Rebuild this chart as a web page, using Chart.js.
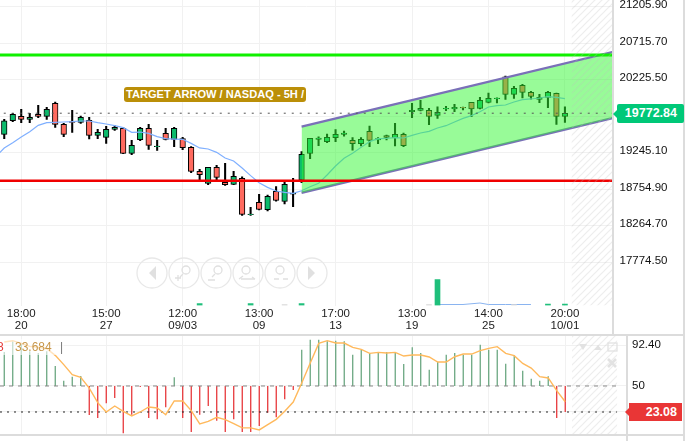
<!DOCTYPE html>
<html>
<head>
<meta charset="utf-8">
<script src="https://cdn.jsdelivr.net/npm/chart.js@4"></script>
<style>
  html, body { margin: 0; padding: 0; background: #fff; }
  #wrap { position: relative; width: 693px; height: 441px; overflow: hidden; font-family: "Liberation Sans", sans-serif; }
  canvas { position: absolute; left: 0; }
  .line { position: absolute; background: #dcdcdc; }
  .tag { position: absolute; color: #fff; font-weight: bold; text-align: right; border-radius: 2px; font-size: 12.5px; }
  .tag:before { content: ""; position: absolute; left: -4px; top: 50%; margin-top: -4px;
    border-top: 4px solid transparent; border-bottom: 4px solid transparent; border-right: 4px solid; border-right-color: inherit; }
  #badge { position: absolute; left: 124px; top: 87px; width: 182px; height: 15px; line-height: 15px; background: #bb8f08;
    color: #fff; font: bold 11.1px/15px "Liberation Sans", sans-serif; text-align: center; border-radius: 3px; white-space: nowrap; }
  #legend { position: absolute; left: 0; top: 339px; height: 16px; width: 64px; font-size: 12px; line-height: 16px;
    background: rgba(255,255,255,.6); white-space: nowrap; }
  #legend span { position: absolute; top: 0; }
  svg { position: absolute; left: 0; top: 0; }
</style>
</head>
<body>
<div id="wrap">
  <canvas id="main" width="693" height="335" style="top:0;width:693px;height:335px"></canvas>
  <canvas id="rsi" width="693" height="99" style="top:335px;width:693px;height:99px"></canvas>

  <svg width="693" height="441" fill="none" stroke="#e8e8e8" stroke-width="1.3">
    <g><circle cx="152" cy="273" r="15"/><circle cx="184" cy="273" r="15"/><circle cx="216" cy="273" r="15"/>
       <circle cx="248" cy="273" r="15"/><circle cx="280" cy="273" r="15"/><circle cx="312" cy="273" r="15"/></g>
    <path d="M156 266v14l-7-7zM308 266v14l7-7z" fill="#e0e0e0" stroke="none"/>
    <g stroke="#e0e0e0">
      <circle cx="186" cy="270" r="4"/><path d="M183 274l-3 3M175 278h6M178 275v6"/>
      <circle cx="218" cy="270" r="4"/><path d="M215 274l-3 3M208 280h7"/>
      <circle cx="246" cy="270" r="4"/><path d="M243 276l-4 3M241 279h14M252 277l3 2"/>
      <circle cx="280" cy="270" r="4"/><path d="M274 279h5M283 279h5"/>
    </g>
    <path d="M579 335h8l-4 6zM594 341l4-5 4 5z" transform="translate(0 9)" fill="#e2e2e2" stroke="none"/>
    <rect x="608" y="343" width="9" height="8" stroke="#e2e2e2"/>
    <path d="M608 359l8 8M616 359l-8 8" stroke="#e2e2e2" stroke-width="2.6"/>
  </svg>

  <div class="line" style="left:612px;top:0;width:2px;height:335px"></div>
  <div class="line" style="left:683px;top:0;width:2px;height:441px"></div>
  <div class="line" style="left:0;top:334px;width:685px;height:2px"></div>
  <div class="line" style="left:626px;top:335px;width:2px;height:106px"></div>
  <div class="line" style="left:0;top:434px;width:685px;height:2px"></div>

  <div id="badge">TARGET ARROW / NASDAQ - 5H /</div>
  <div id="legend"><span style="left:-3px;color:#e53935">8</span><span style="left:15px;color:#c8974a">33.684</span><span style="left:60px;color:#777">|</span></div>
  <div class="tag" id="lastTag" style="left:617px;top:104px;width:60px;height:19px;line-height:18px;padding-right:7px;background:#00c878;border-color:#00c878"></div>
  <div class="tag" id="rsiTag" style="left:629px;top:403px;width:48px;height:18px;line-height:18px;padding-right:5px;background:#e93636;border-color:#e93636;border-radius:0"></div>
</div>

<script>
const opens = [19489,19672,19731,19690,19757,19731,19905,19623,19659,19650,19677,19475,19449,19556,19570,19234,19417,19570,19323,19502,19422,19431,19314,18992,18831,19046,18844,18817,18898,18410,18576,18477,18723,18589,18687,18875,19234,19422,19390,19444,19489,19408,19364,19529,19413,19471,19444,19489,19793,19811,19811,19744,19829,19829,19851,19919,19838,19919,19968,20263,20026,20147,20053,19959,19986,20040,19731];
const closes = [19672,19757,19690,19717,19731,19825,19623,19489,19650,19717,19475,19516,19556,19583,19234,19341,19570,19341,19332,19422,19570,19310,18992,18947,19046,18911,18813,18925,18414,18419,18482,18656,18602,18817,18696,19220,19435,19440,19449,19489,19507,19364,19422,19408,19431,19449,19489,19337,19811,19838,19731,19784,19838,19851,19843,19829,19946,19972,19977,20026,20107,20053,19999,19986,20053,19731,19771];
const highs = [19690,19771,19825,19771,19878,19852,19923,19637,19811,19735,19717,19556,19596,19605,19583,19408,19583,19623,19408,19570,19583,19449,19323,19019,19046,19072,19099,18992,18920,18508,18683,18674,18786,18849,18898,19256,19435,19457,19493,19552,19534,19444,19444,19601,19444,19480,19637,19507,19905,19946,19838,19860,19865,19892,19856,19919,19986,20044,19981,20272,20134,20160,20066,20026,20066,20044,19860];
const lows = [19431,19659,19646,19646,19713,19690,19583,19458,19516,19637,19426,19431,19368,19543,19229,19216,19404,19287,19274,19413,19323,19283,18974,18871,18813,18876,18804,18813,18401,18401,18473,18459,18593,18553,18517,18840,19162,19337,19377,19390,19466,19278,19332,19323,19364,19413,19332,19323,19713,19802,19619,19704,19807,19793,19816,19726,19829,19910,19910,19959,19972,19977,19963,19914,19847,19623,19650];
const maBefore = 19189;
const maValues = [19306,19377,19453,19525,19610,19646,19650,19655,19659,19668,19668,19646,19628,19605,19579,19516,19520,19502,19458,19431,19426,19422,19368,19306,19292,19247,19171,19131,19037,18934,18840,18777,18728,18710,18697,18732,18786,18831,18943,19064,19167,19234,19314,19391,19431,19435,19444,19440,19476,19507,19529,19574,19605,19655,19704,19740,19793,19856,19874,19883,19923,19955,19964,19977,19995,19986,19968];

const priceTicks = [21205.9,20715.7,20225.5,19735.3,19245.1,18754.9,18264.7,17774.5];
const timeIndex = [2,12,21,30,39,48,57,66];
const timeLabels = [['18:00','20'],['15:00','27'],['12:00','09/03'],['13:00','09'],['17:00','13'],['13:00','19'],['14:00','25'],['20:00','10/01']];

const lastPrice = 19772.84;
const greenLevel = 20555;
const redLevel = 18866;
const channelX = [35,72];
const channelTop = [19592,20606];
const channelBottom = [18705,19719];

const volumeIndex = [23,29,35,51,64,66];
const volumeValues = [2,2,2,26,1.5,1.5];
const volumeGreyIndex = [33,50,60];
const volumeGreyValues = [1,1,1];
const volumeMaIndex = [51,54,56,57,59,62];
const volumeMaValues = [1,1,2.5,1,1,1];

const oscHist = [85.2,96.2,94.5,85.9,84.1,85.9,70.7,55.5,59.7,60.3,20,16.9,32.1,37.6,1,20.3,49,16.9,15.5,27.9,59,16.9,2.4,20.3,29.3,14.1,2.4,15.5,2.4,2.4,8.6,22.4,17.6,36.2,45.9,87.6,97.9,97.9,96.2,96.9,96.2,82.4,87.6,84.1,85.2,85.2,85.2,72.8,90,84.1,66.9,74.8,82.4,84.1,82.4,82.4,92.8,87.6,87.6,73.1,81.7,65.9,57.6,55.5,60,16.9,23.1];
const oscLine = [95.5,96.9,94.1,91,90,88.6,81.7,72.1,61.7,59,47.9,32.8,23.1,29.3,23.8,19,23.1,28.3,27.2,20.3,34.5,34.5,24.5,10.7,13.4,17.6,15.2,11,6.6,6.6,4.5,10,15.5,23.8,33.4,53.1,73.8,94.1,96.9,94.5,94.5,90,87.9,83.8,84.8,84.1,84.8,81,82.1,82.1,80,74.8,74.8,80.3,83.1,83.1,86.6,89,90.7,83.8,81.4,73.4,68.6,59.7,58.3,45.2,33.684];
const oscTicks = [92.4,50,23.08];
const oscLast = 23.08;

document.getElementById('lastTag').textContent = lastPrice.toFixed(2);
document.getElementById('rsiTag').textContent = oscLast.toFixed(2);

const hatchStart = 66.8;

// diagonal stripes over the empty right end of each panel
function hatchPlugin(endIdx) {
  return {
    id: 'hatch',
    afterDatasetsDraw(chart) {
      const { ctx, scales: { x }, chartArea } = chart;
      const p = document.createElement('canvas');
      p.width = 7; p.height = 7;
      const c = p.getContext('2d');
      c.strokeStyle = 'rgba(190,190,190,.28)';
      c.lineWidth = 1.2;
      c.beginPath();
      c.moveTo(-1, 8); c.lineTo(8, -1);
      c.moveTo(-4, 4); c.lineTo(4, -4);
      c.moveTo(3, 11); c.lineTo(11, 3);
      c.stroke();
      const left = x.getPixelForValue(hatchStart);
      const right = x.getPixelForValue(endIdx);
      ctx.save();
      ctx.beginPath();
      ctx.rect(chartArea.left, chartArea.top, chartArea.right - chartArea.left, chartArea.bottom - chartArea.top);
      ctx.clip();
      ctx.fillStyle = ctx.createPattern(p, 'repeat');
      ctx.fillRect(left, chartArea.top, right - left, chartArea.bottom - chartArea.top);
      ctx.restore();
    }
  };
}

const gridColor = '#f1f1f1';
const tickFont = { family: '"Liberation Sans", sans-serif', size: 11.5, lineHeight: 1 };
const pts = (xs, ys) => xs.map((x, i) => ({ x, y: ys[i] }));
const seq = arr => arr.map((y, i) => ({ x: i, y }));

// the labels sit right at the plot edge, no room wanted for them
function noEdgePadding(s) {
  s.paddingTop = 0; s.paddingBottom = 0; s.paddingLeft = 0; s.paddingRight = 0;
}

new Chart(document.getElementById('main'), {
  data: {
    datasets: [
      { type: 'bar', order: 7, data: highs.map((h, i) => ({ x: i, y: [lows[i], h] })), backgroundColor: '#000', barThickness: 1.4, grouped: false, yAxisID: 'y' },
      { type: 'bar', order: 6, data: opens.map((o, i) => ({ x: i, y: [o, closes[i]] })),
        backgroundColor: opens.map((o, i) => closes[i] >= o ? '#0cbb6c' : '#ff6a5f'),
        borderColor: '#000', borderWidth: 1, borderSkipped: false, barThickness: 5.6, grouped: false, yAxisID: 'y' },
      { type: 'bar', order: 8, data: pts(volumeIndex, volumeValues), backgroundColor: '#1fbf7b', barThickness: 5, grouped: false, yAxisID: 'vol' },
      { type: 'bar', order: 8, data: pts(volumeGreyIndex, volumeGreyValues), backgroundColor: '#d8d8d8', barThickness: 5, grouped: false, yAxisID: 'vol' },
      { type: 'line', order: 8, data: pts(volumeMaIndex, volumeMaValues), borderColor: '#8ab4f0', borderWidth: 1, pointRadius: 0, yAxisID: 'vol' },
      { type: 'line', order: 5, data: [{ x: -1, y: maBefore }, ...seq(maValues)], borderColor: '#80b0ff', borderWidth: 1.2, pointRadius: 0, tension: 0, yAxisID: 'y' },
      { type: 'line', order: 3, data: pts(channelX, channelTop), borderColor: '#7a70b8', borderWidth: 2.4, pointRadius: 0,
        backgroundColor: 'rgba(50,247,50,.5)', fill: '+1', yAxisID: 'y' },
      { type: 'line', order: 3, data: pts(channelX, channelBottom), borderColor: '#7a70b8', borderWidth: 2.4, pointRadius: 0, yAxisID: 'y' },
      { type: 'line', order: 2, data: pts([-1, 72], [lastPrice, lastPrice]), borderColor: '#555', borderWidth: 1, borderDash: [2, 6], pointRadius: 0, yAxisID: 'y' },
      { type: 'line', order: 1, data: pts([-1, 72], [greenLevel, greenLevel]), borderColor: '#10f000', borderWidth: 3, pointRadius: 0, yAxisID: 'y' },
      { type: 'line', order: 1, data: pts([-1, 72], [redLevel, redLevel]), borderColor: '#f00000', borderWidth: 2.4, pointRadius: 0, yAxisID: 'y' }
    ]
  },
  plugins: [hatchPlugin(72)],
  options: {
    responsive: false,
    animation: false,
    layout: { padding: 0, autoPadding: false },
    plugins: { legend: { display: false }, tooltip: { enabled: false } },
    scales: {
      x: {
        type: 'linear', min: -0.5, max: 71.6, offset: false,
        afterBuildTicks: s => { s.ticks = timeIndex.map(v => ({ value: v })); },
        afterFit: s => { s.height = 29.5; noEdgePadding(s); },
        grid: { color: gridColor, drawTicks: false, offset: false },
        border: { display: false },
        ticks: { autoSkip: false, maxRotation: 0, padding: 3, color: '#222', font: tickFont,
          callback: (v, i) => timeLabels[i] }
      },
      y: {
        position: 'right', min: 17190.3, max: 21293.2,
        afterBuildTicks: s => { s.ticks = priceTicks.map(v => ({ value: v })); },
        afterFit: s => { s.width = 693 - 612.5; noEdgePadding(s); },
        grid: { color: gridColor, drawTicks: false },
        border: { display: false },
        ticks: { autoSkip: false, padding: 7, labelOffset: -1.5, color: '#111', font: tickFont, callback: v => v.toFixed(2) }
      },
      vol: { display: false, position: 'right', min: 0, max: 305.5 }
    }
  }
});

new Chart(document.getElementById('rsi'), {
  data: {
    datasets: [
      { type: 'bar', order: 4, data: oscHist.map((v, i) => ({ x: i, y: [50, v] })),
        backgroundColor: oscHist.map(v => v >= 50 ? '#5fa077' : '#e5282c'), barThickness: 1.2, inflateAmount: 0, grouped: false },
      { type: 'line', order: 3, data: pts([-0.5, 72.1], [50, 50]), borderColor: '#888', borderWidth: 1, borderDash: [4, 5], pointRadius: 0 },
      { type: 'line', order: 3, data: pts([-0.5, 72.1], [oscLast, oscLast]), borderColor: '#222', borderWidth: 1, borderDash: [2, 5], pointRadius: 0 },
      { type: 'line', order: 2, data: seq(oscLine), borderColor: '#ffb95c', borderWidth: 1.4, pointRadius: 0, tension: 0 }
    ]
  },
  plugins: [hatchPlugin(72.1)],
  options: {
    responsive: false,
    animation: false,
    layout: { padding: 0, autoPadding: false },
    plugins: { legend: { display: false }, tooltip: { enabled: false } },
    scales: {
      x: {
        type: 'linear', min: -0.5, max: 73.15, offset: false,
        display: true,
        afterBuildTicks: s => { s.ticks = timeIndex.map(v => ({ value: v })); },
        afterFit: s => { s.height = 0; noEdgePadding(s); },
        grid: { color: gridColor, drawTicks: false, offset: false },
        border: { display: false },
        ticks: { display: false }
      },
      y: {
        position: 'right', min: 0.3, max: 102.8,
        afterBuildTicks: s => { s.ticks = oscTicks.map(v => ({ value: v })); },
        afterFit: s => { s.width = 693 - 626; noEdgePadding(s); },
        grid: { color: gridColor, drawTicks: false },
        border: { display: false },
        ticks: { autoSkip: false, padding: 6, color: '#111', font: tickFont,
          callback: v => v === oscLast ? '' : (v === 50 ? '50' : v.toFixed(2)) }
      }
    }
  }
});
</script>
</body>
</html>
